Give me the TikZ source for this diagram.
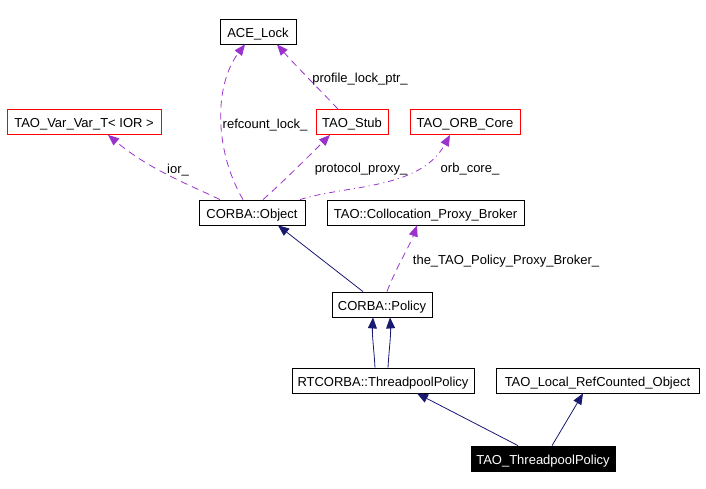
\documentclass[tikz,border=0pt]{standalone}
\usepackage{fontspec}
\setmainfont{Liberation Sans}
\usetikzlibrary{arrows.meta}
\definecolor{edgepurple}{HTML}{9A32CD}
\definecolor{edgenavy}{HTML}{191970}
\tikzset{
  cls/.style={draw=black, line width=0.8pt, fill=white, inner sep=0pt, minimum height=25pt, text height=11.5pt, text depth=0pt, font=\fontsize{13}{15}\selectfont},
  redcls/.style={cls, draw=red},
  curcls/.style={cls, fill=black, text=white},
  usage/.style={draw=edgepurple, line width=0.8pt, dash pattern=on 7pt off 5pt, -{Triangle[length=11pt,width=9pt]}},
  usagedot/.style={usage, dash pattern=on 6pt off 4pt on 1pt off 4pt},
  inherit/.style={draw=edgenavy, line width=0.8pt, -{Triangle[length=11pt,width=9pt]}},
  lbl/.style={font=\fontsize{13}{15}\selectfont, inner sep=0pt, text height=11.5pt, text depth=0pt},
}
\begin{document}
\begin{tikzpicture}[x=1pt,y=-1pt]
\useasboundingbox (0,0) rectangle (706,488);
% nodes
\node[cls, minimum width=76pt] (ace) at (258,31.5) {ACE\_Lock};
\node[redcls, minimum width=154pt] (var) at (84,122) {TAO\_Var\_Var\_T< IOR >};
\node[redcls, minimum width=72pt] (stub) at (352,122) {TAO\_Stub};
\node[redcls, minimum width=110pt] (orb) at (465,122) {TAO\_ORB\_Core};
\node[cls, minimum width=106pt] (obj) at (252,212.5) {CORBA::Object};
\node[cls, minimum width=197pt] (broker) at (425.5,212.5) {TAO::Collocation\_Proxy\_Broker};
\node[cls, minimum width=100pt] (pol) at (382,304.5) {CORBA::Policy};
\node[cls, minimum width=182pt] (rt) at (383,380.5) {RTCORBA::ThreadpoolPolicy};
\node[cls, minimum width=203pt] (local) at (597.5,380.5) {TAO\_Local\_RefCounted\_Object};
\node[curcls, minimum width=144pt] (tp) at (543,458.5) {TAO\_ThreadpoolPolicy};
% usage edges
\draw[usage] ([xshift=-9pt]obj.north) .. controls (214,150) and (214,85) .. ([xshift=-13pt]ace.south);
\draw[usage] ([xshift=-14pt]stub.north) .. controls (320,90) and (295,65) .. ([xshift=19pt]ace.south);
\draw[usage] ([xshift=11pt]obj.north) .. controls (285,180) and (310,155) .. ([xshift=-22pt]stub.south);
\draw[usagedot] ([xshift=48pt]obj.north) .. controls (345,185) and (420,190) .. ([xshift=-15pt]orb.south);
\draw[usage] ([xshift=-32pt]obj.north) .. controls (190,185) and (150,170) .. ([xshift=24pt]var.south);
\draw[usage] ([xshift=5pt]pol.north) .. controls (395,270) and (410,245) .. ([xshift=-8.5pt]broker.south);
% inheritance edges
\draw[inherit] ([xshift=-19pt]pol.north) -- ([xshift=26pt]obj.south);
\draw[inherit] ([xshift=-8pt]rt.north) .. controls (374,350) and (372,335) .. ([xshift=-9pt]pol.south);
\draw[inherit] ([xshift=5pt]rt.north) .. controls (389,350) and (391,335) .. ([xshift=8pt]pol.south);
\draw[inherit] ([xshift=-25pt]tp.north) -- ([xshift=34pt]rt.south);
\draw[inherit] ([xshift=9pt]tp.north) -- ([xshift=-14.5pt]local.south);
% labels
\node[lbl] (l1) at (265,123) {refcount\_lock\_};
\node[lbl] (l2) at (360,77) {profile\_lock\_ptr\_};
\node[lbl] (l3) at (361,167) {protocol\_proxy\_};
\node[lbl] (l4) at (470,167) {orb\_core\_};
\node[lbl] (l5) at (178,168) {ior\_};
\node[lbl] (l6) at (506,259) {the\_TAO\_Policy\_Proxy\_Broker\_};
\end{tikzpicture}
\end{document}
